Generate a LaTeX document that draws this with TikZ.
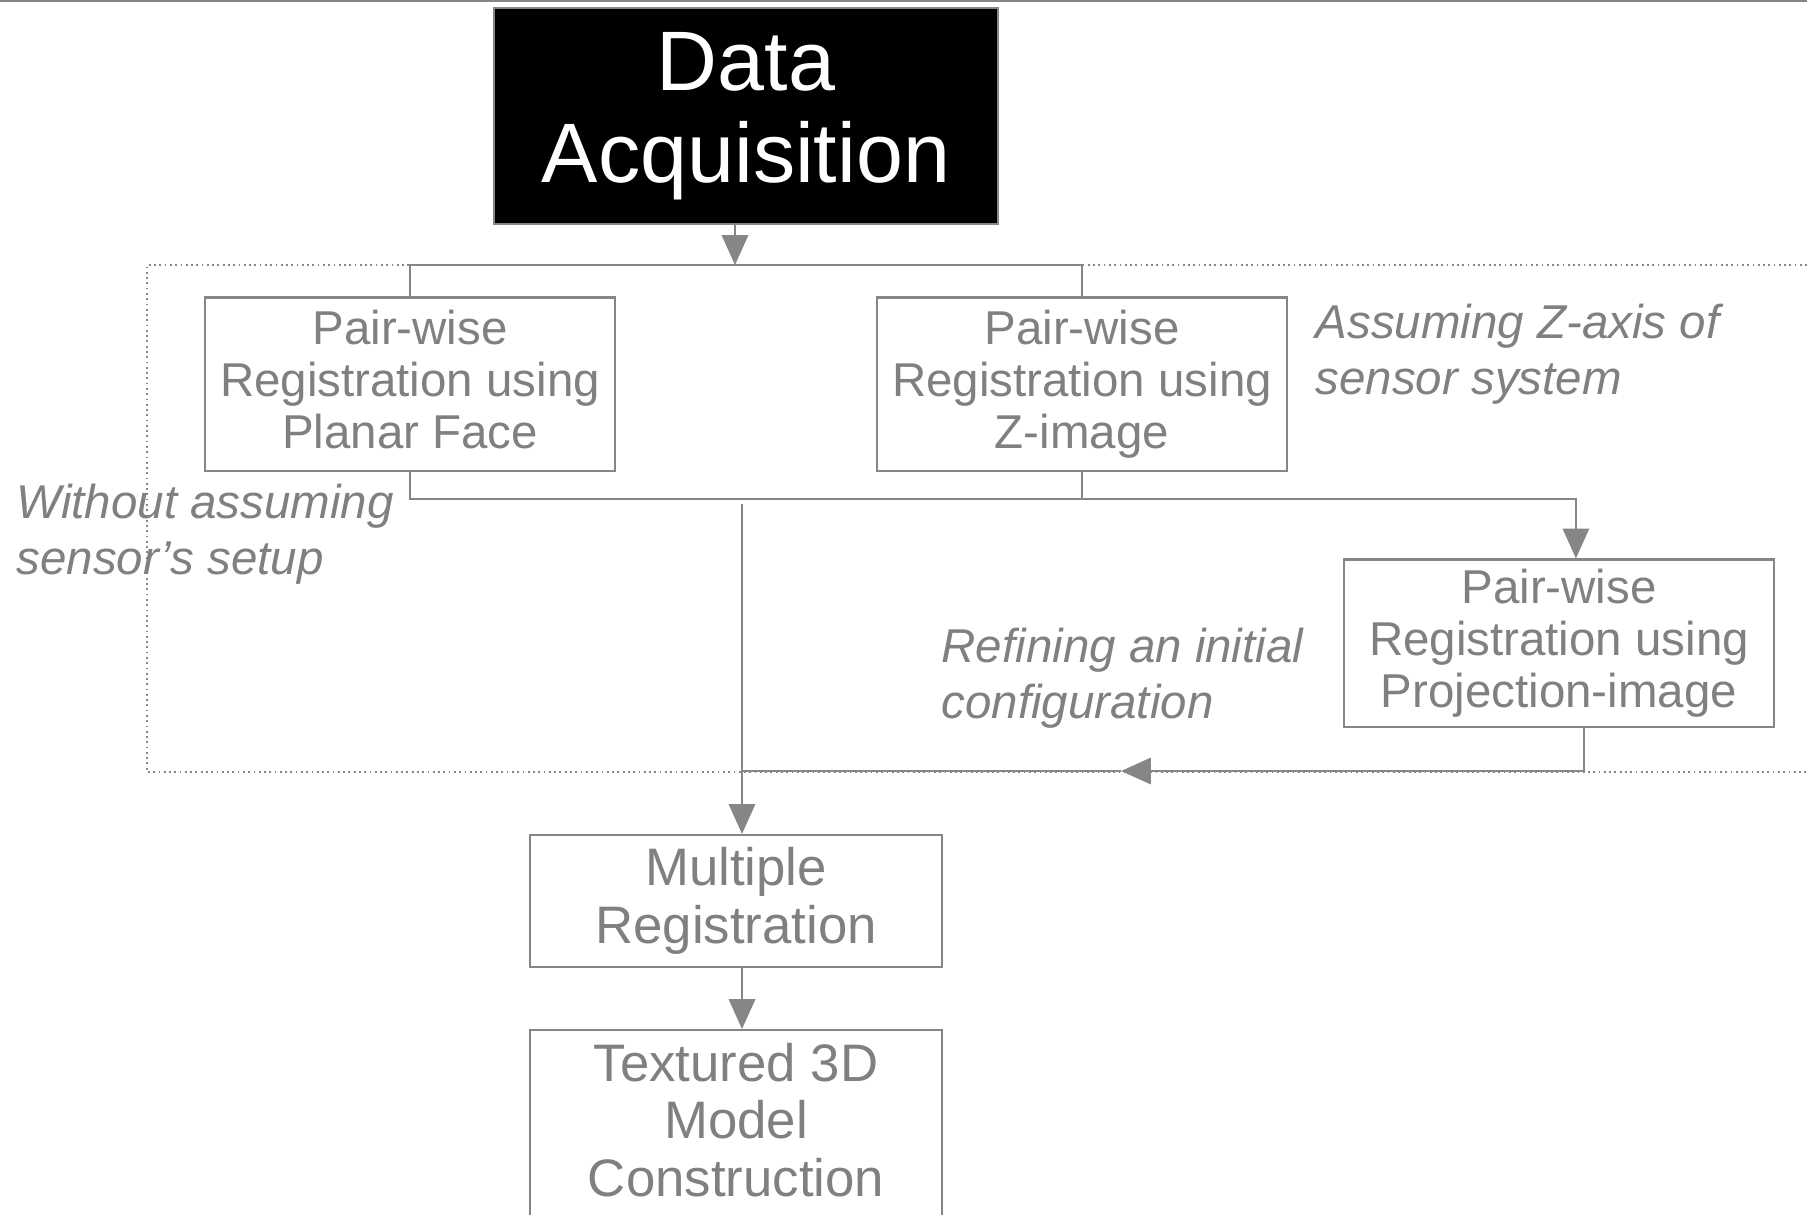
\documentclass[tikz,border=0pt]{standalone}
\usepackage{fontspec}
\setmainfont{Liberation Sans}
\usetikzlibrary{arrows.meta,positioning,calc}
\definecolor{textgray}{HTML}{808080}
\definecolor{linegray}{HTML}{868686}

\begin{document}
\begin{tikzpicture}[x=0.01cm,y=-0.01cm,
  stepbox/.style={draw=linegray, line width=0.6pt, text=textgray, align=center, inner sep=0pt,
    font=\fontsize{13.5}{14.8}\selectfont, execute at end node={\vphantom{g}}},
  bigbox/.style={stepbox, font=\fontsize{15}{16.4}\selectfont},
  note/.style={text=textgray, align=left, inner sep=0pt, anchor=west,
    font=\fontsize{13.5}{16}\selectfont\itshape},
  link/.style={draw=linegray, line width=0.6pt},
  arr/.style={link, -{Triangle[length=8.5pt,width=7.5pt]}}]
\useasboundingbox (0,0) rectangle (1807,1214);
\clip (0,0) rectangle (1807,1214);
\draw[link] (0,1) -- (1807,1);
\draw[linegray, densely dotted, line width=0.5pt] (1807,265) -| (147,772) -- (1807,772);

\node[fill=black, draw=linegray, text=white, align=center, inner sep=0pt,
  minimum width=5.04cm, minimum height=2.16cm, font=\fontsize{24}{26.2}\selectfont]
  (acq) at (746,116) {Data\\Acquisition};
\node[stepbox, minimum width=4.10cm, minimum height=1.73cm] (planar) at (410,384)
  {Pair-wise\\Registration using\\Planar Face};
\node[stepbox, minimum width=4.09cm, minimum height=1.73cm] (zimg) at (1082,384)
  {Pair-wise\\Registration using\\Z-image};
\node[stepbox, minimum width=4.30cm, minimum height=1.67cm] (proj) at (1559,643)
  {Pair-wise\\Registration using\\Projection-image};
\node[bigbox, minimum width=4.12cm, minimum height=1.32cm] (multi) at (736,901)
  {Multiple\\Registration};
\node[bigbox, minimum width=4.12cm, minimum height=1.9cm, anchor=north] (tex) at (736,1029)
  {Textured 3D\\Model\\Construction};

\node[note] (without) at (16,534) {Without assuming\\sensor's setup};
\node[note] (zaxis) at (1315,354) {Assuming Z-axis of\\sensor system};
\node[note] (refine) at (941,678) {Refining an initial\\configuration};

\coordinate (split) at (735,265);
\coordinate (merge) at (1082,499);
\coordinate (fork) at (742,504);
\coordinate (back) at (1121,771);
\draw[arr] (acq.south -| split) -- (split);
\draw[link] (planar.north) -- (planar.north |- split) -| (zimg.north);
\draw[link] (planar.south) |- (merge) -- (zimg.south);
\draw[arr] (merge) -| ([xshift=4.8pt]proj.north);
\draw[arr] (fork) -- (fork |- multi.north);
\draw[arr] ([xshift=7pt]proj.south) |- (back);
\draw[link] (back) -- (fork |- back);
\draw[arr] (multi.south -| fork) -- (tex.north -| fork);
\end{tikzpicture}
\end{document}
